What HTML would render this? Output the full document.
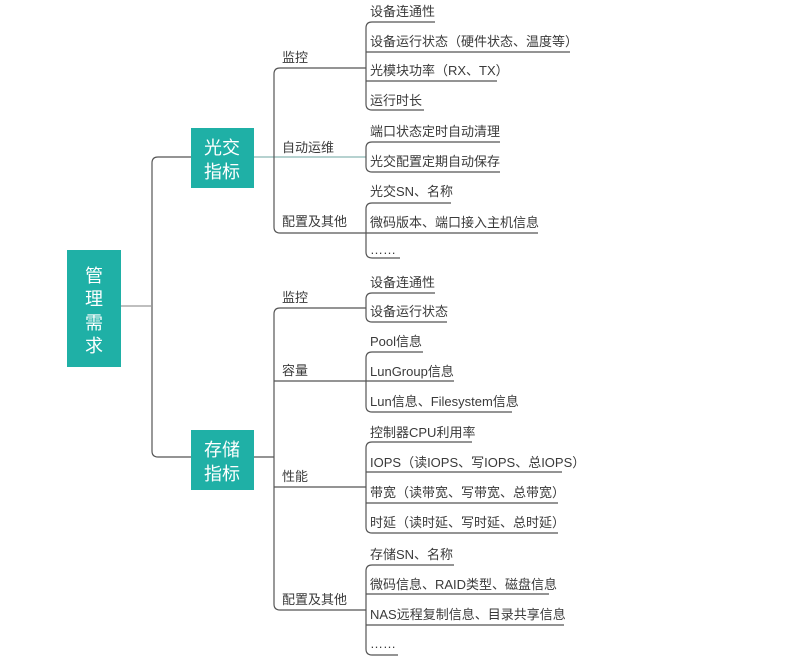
<!DOCTYPE html>
<html><head><meta charset="utf-8"><style>
html,body{margin:0;padding:0;background:#fff;}
svg{display:block;}
text{font-family:"Liberation Sans","Noto Sans CJK SC",sans-serif;font-size:13px;fill:#3a3a3a;}
.b{font-size:18px;fill:#fff;}
</style></head><body>
<svg width="791" height="663" viewBox="0 0 791 663" xmlns="http://www.w3.org/2000/svg">
<g fill="none" stroke="#555" stroke-width="1.2">
<path d="M121 306 H151" stroke="#999"/>
<path d="M191 157 H158 Q152 157 152 163 V451 Q152 457 158 457 H191"/>
<path d="M254 157 H366" stroke="#8ab8b4"/>
<path d="M360 68 H280 Q274 68 274 74 V227 Q274 233 280 233 H366"/>
<path d="M435 22 H372 Q366 22 366 28 V104 Q366 110 372 110 H424"/>
<path d="M366 52 H570 M366 81 H497 M360 68 H366"/>
<path d="M500 142 H372 Q366 142 366 148 V166 Q366 172 372 172 H500"/>
<path d="M451 203 H372 Q366 203 366 209 V252 Q366 258 372 258 H400"/>
<path d="M366 233 H538"/>
<path d="M366 308 H280 Q274 308 274 314 V604 Q274 610 280 610 H366"/>
<path d="M254 457 H274 M274 381 H366 M274 487 H366"/>
<path d="M435 293 H372 Q366 293 366 299 V316 Q366 322 372 322 H447"/>
<path d="M423 352 H372 Q366 352 366 358 V406 Q366 412 372 412 H512"/>
<path d="M366 381 H454"/>
<path d="M472 442 H372 Q366 442 366 448 V527 Q366 533 372 533 H558"/>
<path d="M366 472 H562 M366 503 H558"/>
<path d="M454 565 H372 Q366 565 366 571 V649 Q366 655 372 655 H398"/>
<path d="M366 594 H549 M366 625 H564"/>
</g>
<rect x="67" y="250" width="54" height="117" fill="#1fb0a6"/>
<rect x="191" y="128" width="63" height="60" fill="#1fb0a6"/>
<rect x="191" y="430" width="63" height="60" fill="#1fb0a6"/>
<g class="b" text-anchor="middle">
<text class="b" x="94" y="282">管</text>
<text class="b" x="94" y="305">理</text>
<text class="b" x="94" y="329">需</text>
<text class="b" x="94" y="352">求</text>
<text class="b" x="222" y="154">光交</text>
<text class="b" x="222" y="178">指标</text>
<text class="b" x="222" y="456">存储</text>
<text class="b" x="222" y="480">指标</text>
</g>
<text x="282" y="62">监控</text>
<text x="282" y="152">自动运维</text>
<text x="282" y="226">配置及其他</text>
<text x="370" y="16">设备连通性</text>
<text x="370" y="46">设备运行状态（硬件状态、温度等）</text>
<text x="370" y="75">光模块功率（RX、TX）</text>
<text x="370" y="105">运行时长</text>
<text x="370" y="136">端口状态定时自动清理</text>
<text x="370" y="166">光交配置定期自动保存</text>
<text x="370" y="196">光交SN、名称</text>
<text x="370" y="227">微码版本、端口接入主机信息</text>
<text x="370" y="254">……</text>
<text x="282" y="302">监控</text>
<text x="282" y="375">容量</text>
<text x="282" y="481">性能</text>
<text x="282" y="604">配置及其他</text>
<text x="370" y="287">设备连通性</text>
<text x="370" y="316">设备运行状态</text>
<text x="370" y="346">Pool信息</text>
<text x="370" y="376">LunGroup信息</text>
<text x="370" y="406">Lun信息、Filesystem信息</text>
<text x="370" y="437">控制器CPU利用率</text>
<text x="370" y="467">IOPS（读IOPS、写IOPS、总IOPS）</text>
<text x="370" y="497">带宽（读带宽、写带宽、总带宽）</text>
<text x="370" y="527">时延（读时延、写时延、总时延）</text>
<text x="370" y="559">存储SN、名称</text>
<text x="370" y="589">微码信息、RAID类型、磁盘信息</text>
<text x="370" y="619">NAS远程复制信息、目录共享信息</text>
<text x="370" y="648">……</text>
</svg>
</body></html>
